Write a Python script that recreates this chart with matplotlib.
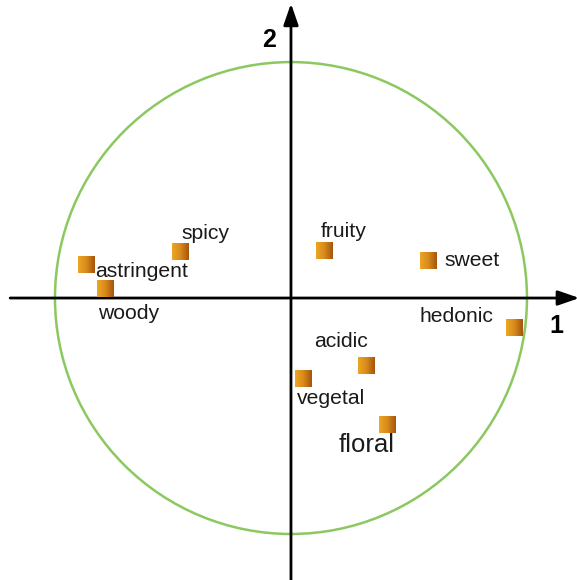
import numpy as np
import matplotlib.pyplot as plt
from matplotlib.colors import LinearSegmentedColormap
from matplotlib.patches import Circle

# attributs (coordonnées sur les axes 1 et 2)
labels = ["astringent", "woody", "spicy", "fruity", "sweet",
          "hedonic", "acidic", "vegetal", "floral"]
dim1 = [-0.867, -0.784, -0.470, 0.140, 0.583, 0.949, 0.322, 0.051, 0.409]
dim2 = [0.142, 0.042, 0.199, 0.201, 0.157, -0.127, -0.284, -0.339, -0.534]

# décalage des étiquettes (en points) et taille
lab_dx = [40, 16, 18, 14, 31, -42, -19, 20, -15]
lab_dy = [-5, -18, 13, 14, 0, 8, 17, -15, -15]
lab_fs = [15.2, 15.2, 15.2, 15.2, 15.2, 15.2, 15.2, 15.2, 18.5]

fig = plt.figure(figsize=(5.77, 5.80), dpi=100)
ax = fig.add_axes([0, 0, 1, 1])
ax.set_xlim(-1.233, 1.212)
ax.set_ylim(-1.195, 1.263)
ax.set_aspect("equal")
ax.axis("off")

# cercle des corrélations
ax.add_patch(Circle((0, 0), 1.0, fill=False, ec="#8cc860", lw=1.8))

# axes avec flèches
arw = dict(arrowstyle="-|>,head_length=1.3,head_width=0.45", color="black", lw=2.0,
           shrinkA=0, shrinkB=0)
ax.annotate("", xy=(1.222, 0), xytext=(-1.19, 0), arrowprops=arw, annotation_clip=False)
ax.annotate("", xy=(0, 1.248), xytext=(0, -1.2), arrowprops=arw, annotation_clip=False)
ax.text(1.123, -0.119, "1", fontsize=18, fontweight="bold", ha="center", va="center",
        family="Liberation Sans")
ax.text(-0.093, 1.093, "2", fontsize=18, fontweight="bold", ha="center", va="center",
        family="Liberation Sans")

# carrés en dégradé
cmap = LinearSegmentedColormap.from_list("sq", ["#eca624", "#d88a1c", "#a4560f"])
grad = np.linspace(0, 1, 32).reshape(1, -1)
h = 0.036
for x, y in zip(dim1, dim2):
    ax.imshow(grad, cmap=cmap, extent=[x - h, x + h, y - h, y + h],
              aspect="auto", zorder=3, interpolation="bicubic")

for lab, x, y, dx, dy, fs in zip(labels, dim1, dim2, lab_dx, lab_dy, lab_fs):
    ax.annotate(lab, (x, y), xytext=(dx, dy), textcoords="offset points",
                ha="center", va="center", fontsize=fs, color="#1a1a1a",
                family="Liberation Sans", zorder=4)

ax.set_xlim(-1.233, 1.212)
ax.set_ylim(-1.195, 1.263)
fig.savefig("out.png", dpi=100)
